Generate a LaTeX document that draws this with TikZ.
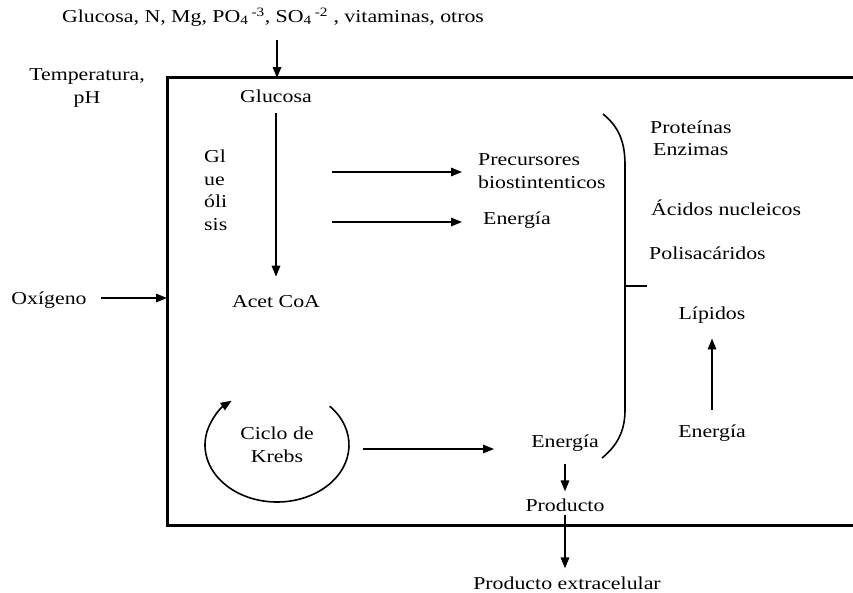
\documentclass[tikz,border=0pt]{standalone}
\usepackage{fontspec}
\setmainfont{Liberation Serif}[FakeStretch=1.2]
\usetikzlibrary{arrows.meta}

\begin{document}
\begin{tikzpicture}[x=1pt,y=-1pt,
  lbl/.style={inner sep=0pt, font=\fontsize{18.2}{22.5}\selectfont},
  flow/.style={line width=1.6pt,-{Triangle[length=11pt,width=8.5pt]}},
  wall/.style={line width=3pt},
  brace/.style={line width=1.6pt},
]
\useasboundingbox (0,0) rectangle (853,592);

% cell boundary, open on the right
\draw[wall] (862,77) -- (167,77) -- (167,525) -- (862,525);

% external inputs
\node[lbl] (inputs) at (273,17) {Glucosa, N, Mg, PO\textsubscript{4}\,\textsuperscript{-3}, SO\textsubscript{4}\,\textsuperscript{-2} , vitaminas, otros};
\coordinate (inTop) at (277,40);
\coordinate (inBot) at (277,78);
\draw[flow] (inTop) -- (inBot);

\node[lbl, align=center] (temp) at (87,88) {Temperatura,\\pH};

\node[lbl] (oxi) at (49,300) {Oxígeno};
\coordinate (wallL) at (167,298);
\draw[flow, shorten <=14pt] (oxi.east |- wallL) -- (wallL);

% glycolysis
\node[lbl] (gluc) at (276,96) {Glucosa};
\node[lbl] (acet) at (276,302) {Acet CoA};
\draw[flow, shorten <=10pt, shorten >=19pt] (gluc.south) -- (acet.north);
\node[lbl, align=left, anchor=north west] (glyc) at (204,150) {Gl\\ue\\óli\\sis};

\node[lbl, align=left, anchor=west] (prec) at (478,171) {Precursores\\biostintenticos};
\node[lbl, anchor=west] (en1) at (483,220) {Energía};
\coordinate (g1) at (332,172);
\coordinate (g2) at (332,222);
\draw[flow, shorten >=16pt] (g1) -- (g1 -| prec.west);
\draw[flow, shorten >=21pt] (g2) -- (g2 -| en1.west);

% Krebs cycle
\node[lbl, align=center] (krebs) at (277,445) {Ciclo de\\Krebs};
\draw[flow] ([shift={(-43:72 and 57)}]krebs.center)
  arc[start angle=-43, end angle=231, x radius=72, y radius=57];

\node[lbl] (en2) at (565,443) {Energía};
\coordinate (k1) at (363,449);
\draw[flow] (k1) -- ([xshift=-37pt]en2.west |- k1);

\node[lbl] (prod) at (565,505) {Producto};
\draw[flow, shorten <=12pt, shorten >=7pt] (en2.south) -- (prod.north);
\node[lbl] (ext) at (567,583) {Producto extracelular};
\draw[flow, shorten <=3pt, shorten >=8pt] (prod.south) -- (prod.south |- ext.north);

% products collected by the brace
\draw[brace] (603,114) .. controls (619,127) and (625,142) .. (625,165)
  -- (625,410) .. controls (625,430) and (618,445) .. (602,458);
\coordinate (brk) at (625,286);
\coordinate (brkEnd) at (647,286);
\draw[brace] (brk) -- (brkEnd);

\node[lbl, anchor=west] (prot) at (650,127) {Proteínas};
\node[lbl, anchor=west] (enz) at (653,150) {Enzimas};
\node[lbl, anchor=west] (acid) at (651,208) {Ácidos nucleicos};
\node[lbl, anchor=west] (poli) at (649,253) {Polisacáridos};
\node[lbl] (lip) at (712,315) {Lípidos};
\node[lbl] (en3) at (712,433) {Energía};
\draw[flow, shorten <=15pt, shorten >=15pt] (en3.north) -- (lip.south);
\end{tikzpicture}
\end{document}
